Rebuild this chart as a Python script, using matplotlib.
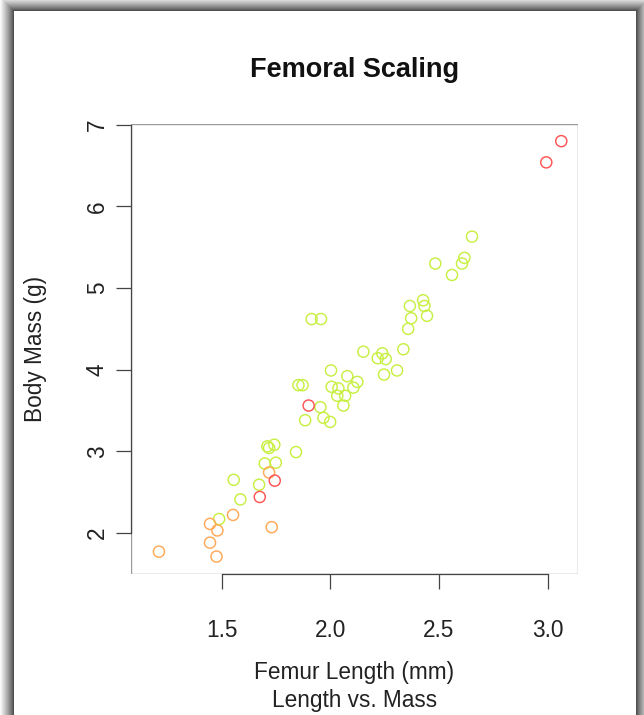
"""Femoral scaling scatter: femur length vs body mass, coloured by group."""
import matplotlib
matplotlib.use("Agg")
import matplotlib.pyplot as plt
from matplotlib.patches import Rectangle

plt.rcParams["font.family"] = ["Liberation Sans", "DejaVu Sans"]

# ---- data ----
red_len = [3.063, 2.994, 1.900, 1.744, 1.675]
red_mass = [6.80, 6.54, 3.56, 2.64, 2.44]

orange_len = [1.718, 1.552, 1.446, 1.480, 1.730, 1.446, 1.476, 1.211]
orange_mass = [2.74, 2.22, 2.11, 2.03, 2.07, 1.88, 1.71, 1.77]

green_len = [2.652, 2.483, 2.617, 2.606, 2.560, 2.427, 2.433, 2.366, 2.445,
             2.372, 2.358, 2.336, 2.152, 2.239, 2.218, 2.255, 1.914, 1.957,
             2.247, 2.307, 2.003, 2.078, 2.124, 2.106, 2.006, 2.037, 2.032,
             2.068, 2.060, 1.853, 1.872, 1.954, 1.968, 1.999, 1.884, 1.710,
             1.718, 1.742, 1.842, 1.698, 1.749, 1.555, 1.672, 1.586, 1.488]
green_mass = [5.63, 5.30, 5.37, 5.30, 5.16, 4.85, 4.78, 4.78, 4.66,
              4.63, 4.50, 4.25, 4.22, 4.20, 4.14, 4.13, 4.62, 4.62,
              3.94, 3.99, 3.99, 3.92, 3.85, 3.78, 3.79, 3.77, 3.68,
              3.68, 3.56, 3.81, 3.81, 3.54, 3.41, 3.36, 3.38, 3.06,
              3.04, 3.08, 2.99, 2.85, 2.86, 2.65, 2.59, 2.41, 2.17]

x_ticks = [1.5, 2.0, 2.5, 3.0]
x_ticklabels = ["1.5", "2.0", "2.5", "3.0"]
y_ticks = [2, 3, 4, 5, 6, 7]
y_ticklabels = ["2", "3", "4", "5", "6", "7"]

W, H = 644, 715
fig = plt.figure(figsize=(W / 100, H / 100), dpi=100)
fig.patch.set_facecolor("white")

# window frame with soft shadow (screenshot look)
bg = fig.add_axes([0, 0, 1, 1], zorder=-10)
bg.set_xlim(0, W)
bg.set_ylim(H, 0)
bg.axis("off")
n_shadow = 14
for i in range(n_shadow, 0, -1):
    g = 0.22 + 0.76 * (i / n_shadow) ** 0.8
    bg.add_patch(Rectangle((14 - i, 11 - i), 622 + 2 * i, 900,
                           facecolor=(g, g, g), edgecolor="none"))
bg.add_patch(Rectangle((14, 11), 622, 900, facecolor="white", edgecolor="none"))

# main plot region
left, right, top, bottom = 130.5, 578, 124, 574
ax = fig.add_axes([left / W, 1 - bottom / H, (right - left) / W, (bottom - top) / H])
ax.set_facecolor("none")

mk = dict(s=64, facecolors="none", linewidths=1.05)
ax.scatter(green_len, green_mass, edgecolors="#c8ef44", **mk)
ax.scatter(orange_len, orange_mass, edgecolors="#ffa958", **mk)
ax.scatter(red_len, red_mass, edgecolors="#ff5555", **mk)

ax.set_xlim(1.08, 3.14)
ax.set_ylim(1.496, 7.01)

# light box plus darker axis lines spanning the ticks
ax.add_patch(Rectangle((0, 0), 1, 1, transform=ax.transAxes, fill=False,
                       edgecolor="#9a9a9a", linewidth=1.0, zorder=0))
for side in ["top", "right"]:
    ax.spines[side].set_visible(False)
ax.spines["left"].set_bounds(2, 7)
ax.spines["bottom"].set_bounds(1.5, 3.0)
for side in ["left", "bottom"]:
    ax.spines[side].set_color("#444444")
    ax.spines[side].set_linewidth(0.9)

ax.set_xticks(x_ticks)
ax.set_xticklabels(x_ticklabels)
ax.set_yticks(y_ticks)
ax.set_yticklabels(y_ticklabels, rotation=90, va="center")
ax.tick_params(axis="both", length=10.5, width=0.9, color="#444444",
               labelsize=16.3, labelcolor="#222222")
ax.tick_params(axis="x", pad=22)
ax.tick_params(axis="y", pad=5)

cx = (left + right) / 2
fig.text(cx / W, 1 - 70 / H, "Femoral Scaling", ha="center", va="center",
         fontsize=19.5, fontweight="bold", color="#111111")
fig.text(cx / W, 1 - 672 / H, "Femur Length (mm)", ha="center", va="center",
         fontsize=16.3, color="#222222")
fig.text(cx / W, 1 - 700 / H, "Length vs. Mass", ha="center", va="center",
         fontsize=16.3, color="#222222")
fig.text(36 / W, 1 - 349 / H, "Body Mass (g)", ha="center", va="center",
         rotation=90, fontsize=16.3, color="#222222")

fig.savefig("out.png", dpi=100)
